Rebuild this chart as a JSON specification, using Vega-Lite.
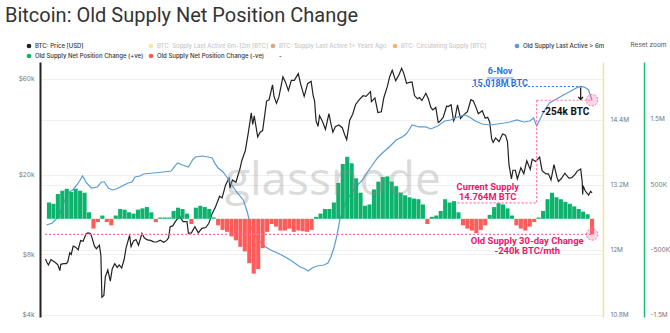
{
  "$schema": "https://vega.github.io/schema/vega-lite/v6.json",
  "width": 563,
  "height": 255,
  "autosize": {"type": "none"},
  "padding": {"left": 40, "top": 62, "right": 67, "bottom": 16},
  "title": {"text": "Bitcoin: Old Supply Net Position Change", "anchor": "start", "frame": "group", "dx": -35, "offset": 15, "font": "Roboto", "fontSize": 20, "fontWeight": 400, "color": "#333333"},
  "config": {
    "view": {"stroke": null},
    "font": "Inter",
    "axis": {"labelFont": "Inter", "labelFontSize": 6.5, "labelColor": "#777777", "ticks": false, "gridColor": "#efefef"}
  },
  "datasets": {
    "price": [
      {"date": "2019-11-19", "p": 7600}, {"date": "2019-11-22", "p": 7300}, {"date": "2019-11-25", "p": 7100}, {"date": "2019-11-30", "p": 7550}, {"date": "2019-12-05", "p": 7400},
      {"date": "2019-12-10", "p": 7250}, {"date": "2019-12-14", "p": 7100}, {"date": "2019-12-18", "p": 6650}, {"date": "2019-12-20", "p": 7150},
      {"date": "2019-12-26", "p": 7200}, {"date": "2019-12-31", "p": 7200}, {"date": "2020-01-03", "p": 7350}, {"date": "2020-01-07", "p": 8150},
      {"date": "2020-01-10", "p": 8000}, {"date": "2020-01-14", "p": 8800}, {"date": "2020-01-19", "p": 8700}, {"date": "2020-01-24", "p": 8450},
      {"date": "2020-01-29", "p": 9380}, {"date": "2020-02-03", "p": 9300}, {"date": "2020-02-09", "p": 10150}, {"date": "2020-02-13", "p": 10250},
      {"date": "2020-02-18", "p": 10180}, {"date": "2020-02-21", "p": 9700}, {"date": "2020-02-26", "p": 8800}, {"date": "2020-03-01", "p": 8550},
      {"date": "2020-03-07", "p": 8900}, {"date": "2020-03-10", "p": 7900}, {"date": "2020-03-12", "p": 4900}, {"date": "2020-03-16", "p": 5000},
      {"date": "2020-03-19", "p": 6200}, {"date": "2020-03-24", "p": 6700}, {"date": "2020-03-29", "p": 5900}, {"date": "2020-04-02", "p": 6800},
      {"date": "2020-04-07", "p": 7200}, {"date": "2020-04-12", "p": 6900}, {"date": "2020-04-16", "p": 7100}, {"date": "2020-04-21", "p": 6850},
      {"date": "2020-04-26", "p": 7550}, {"date": "2020-04-30", "p": 8650}, {"date": "2020-05-07", "p": 9950}, {"date": "2020-05-10", "p": 8750},
      {"date": "2020-05-15", "p": 9350}, {"date": "2020-05-20", "p": 9500}, {"date": "2020-05-25", "p": 8900}, {"date": "2020-06-01", "p": 10200},
      {"date": "2020-06-06", "p": 9650}, {"date": "2020-06-12", "p": 9450}, {"date": "2020-06-18", "p": 9400}, {"date": "2020-06-25", "p": 9250},
      {"date": "2020-07-01", "p": 9230}, {"date": "2020-07-08", "p": 9430}, {"date": "2020-07-15", "p": 9200}, {"date": "2020-07-21", "p": 9400},
      {"date": "2020-07-25", "p": 9700}, {"date": "2020-07-28", "p": 11000}, {"date": "2020-08-02", "p": 11100}, {"date": "2020-08-10", "p": 11900},
      {"date": "2020-08-17", "p": 12300}, {"date": "2020-08-23", "p": 11650}, {"date": "2020-08-31", "p": 11650}, {"date": "2020-09-03", "p": 10200},
      {"date": "2020-09-09", "p": 10250}, {"date": "2020-09-16", "p": 11000}, {"date": "2020-09-23", "p": 10250}, {"date": "2020-09-30", "p": 10800},
      {"date": "2020-10-08", "p": 10900}, {"date": "2020-10-14", "p": 11400}, {"date": "2020-10-21", "p": 12800}, {"date": "2020-10-27", "p": 13650},
      {"date": "2020-11-05", "p": 15600}, {"date": "2020-11-10", "p": 15300}, {"date": "2020-11-17", "p": 17700}, {"date": "2020-11-24", "p": 19150},
      {"date": "2020-11-26", "p": 17100}, {"date": "2020-12-01", "p": 18800}, {"date": "2020-12-08", "p": 18300}, {"date": "2020-12-16", "p": 21300},
      {"date": "2020-12-20", "p": 23500}, {"date": "2020-12-27", "p": 26300}, {"date": "2021-01-02", "p": 32200}, {"date": "2021-01-08", "p": 40500},
      {"date": "2021-01-11", "p": 35500}, {"date": "2021-01-14", "p": 39200}, {"date": "2021-01-21", "p": 30800}, {"date": "2021-01-26", "p": 32500},
      {"date": "2021-01-31", "p": 33100}, {"date": "2021-02-08", "p": 46400}, {"date": "2021-02-13", "p": 47100}, {"date": "2021-02-20", "p": 55900},
      {"date": "2021-02-23", "p": 48900}, {"date": "2021-02-28", "p": 45200}, {"date": "2021-03-05", "p": 48800}, {"date": "2021-03-13", "p": 61200},
      {"date": "2021-03-18", "p": 57800}, {"date": "2021-03-24", "p": 52300}, {"date": "2021-03-30", "p": 58800}, {"date": "2021-04-05", "p": 58800},
      {"date": "2021-04-13", "p": 63500}, {"date": "2021-04-18", "p": 56200}, {"date": "2021-04-25", "p": 49000}, {"date": "2021-05-02", "p": 56600},
      {"date": "2021-05-09", "p": 58200}, {"date": "2021-05-13", "p": 49700}, {"date": "2021-05-16", "p": 46400}, {"date": "2021-05-19", "p": 37000},
      {"date": "2021-05-23", "p": 34700}, {"date": "2021-05-26", "p": 39200}, {"date": "2021-06-01", "p": 36700}, {"date": "2021-06-07", "p": 33500},
      {"date": "2021-06-14", "p": 40200}, {"date": "2021-06-18", "p": 35800}, {"date": "2021-06-22", "p": 32500}, {"date": "2021-06-27", "p": 34600},
      {"date": "2021-07-04", "p": 35300}, {"date": "2021-07-11", "p": 34200}, {"date": "2021-07-16", "p": 31500}, {"date": "2021-07-20", "p": 29800},
      {"date": "2021-07-26", "p": 37300}, {"date": "2021-08-01", "p": 39900}, {"date": "2021-08-07", "p": 44600}, {"date": "2021-08-14", "p": 47000},
      {"date": "2021-08-22", "p": 49300}, {"date": "2021-08-28", "p": 49000}, {"date": "2021-09-06", "p": 51700}, {"date": "2021-09-08", "p": 46100},
      {"date": "2021-09-15", "p": 48100}, {"date": "2021-09-21", "p": 40700}, {"date": "2021-09-28", "p": 41000}, {"date": "2021-10-03", "p": 48200},
      {"date": "2021-10-10", "p": 54700}, {"date": "2021-10-15", "p": 61500}, {"date": "2021-10-20", "p": 66000}, {"date": "2021-10-27", "p": 58500},
      {"date": "2021-11-03", "p": 62900}, {"date": "2021-11-08", "p": 67500}, {"date": "2021-11-12", "p": 64100}, {"date": "2021-11-18", "p": 56900},
      {"date": "2021-11-24", "p": 57500}, {"date": "2021-11-29", "p": 57800}, {"date": "2021-12-04", "p": 49400}, {"date": "2021-12-10", "p": 47600},
      {"date": "2021-12-14", "p": 48300}, {"date": "2021-12-19", "p": 46700}, {"date": "2021-12-27", "p": 50700}, {"date": "2022-01-01", "p": 47700},
      {"date": "2022-01-06", "p": 43100}, {"date": "2022-01-10", "p": 41900}, {"date": "2022-01-16", "p": 43100}, {"date": "2022-01-21", "p": 36300},
      {"date": "2022-01-24", "p": 36700}, {"date": "2022-01-31", "p": 38500}, {"date": "2022-02-07", "p": 43800}, {"date": "2022-02-10", "p": 43600},
      {"date": "2022-02-16", "p": 44500}, {"date": "2022-02-21", "p": 37000}, {"date": "2022-02-24", "p": 38300}, {"date": "2022-03-01", "p": 44400},
      {"date": "2022-03-07", "p": 38000}, {"date": "2022-03-14", "p": 39700}, {"date": "2022-03-21", "p": 41100}, {"date": "2022-03-28", "p": 47100},
      {"date": "2022-04-02", "p": 46400}, {"date": "2022-04-08", "p": 42800}, {"date": "2022-04-12", "p": 40100}, {"date": "2022-04-20", "p": 41500},
      {"date": "2022-04-26", "p": 38100}, {"date": "2022-05-01", "p": 38500}, {"date": "2022-05-05", "p": 36500}, {"date": "2022-05-09", "p": 30100},
      {"date": "2022-05-12", "p": 28900}, {"date": "2022-05-17", "p": 30400}, {"date": "2022-05-24", "p": 29100}, {"date": "2022-05-31", "p": 31800},
      {"date": "2022-06-06", "p": 31400}, {"date": "2022-06-10", "p": 29100}, {"date": "2022-06-13", "p": 22400}, {"date": "2022-06-18", "p": 19000},
      {"date": "2022-06-21", "p": 21000}, {"date": "2022-06-26", "p": 21000}, {"date": "2022-06-30", "p": 19000}, {"date": "2022-07-07", "p": 21600},
      {"date": "2022-07-13", "p": 20200}, {"date": "2022-07-19", "p": 23400}, {"date": "2022-07-26", "p": 21200}, {"date": "2022-07-30", "p": 23800},
      {"date": "2022-08-06", "p": 23200}, {"date": "2022-08-14", "p": 24400}, {"date": "2022-08-19", "p": 20900}, {"date": "2022-08-26", "p": 20200},
      {"date": "2022-09-01", "p": 20100}, {"date": "2022-09-06", "p": 18800}, {"date": "2022-09-12", "p": 22400}, {"date": "2022-09-18", "p": 19400},
      {"date": "2022-09-21", "p": 18500}, {"date": "2022-09-27", "p": 19100}, {"date": "2022-10-04", "p": 20300}, {"date": "2022-10-12", "p": 19200},
      {"date": "2022-10-18", "p": 19300}, {"date": "2022-10-25", "p": 20100}, {"date": "2022-10-29", "p": 20800}, {"date": "2022-11-05", "p": 21300},
      {"date": "2022-11-08", "p": 18500}, {"date": "2022-11-09", "p": 15900}, {"date": "2022-11-10", "p": 17600}, {"date": "2022-11-14", "p": 16600},
      {"date": "2022-11-21", "p": 15800}, {"date": "2022-11-25", "p": 16500}, {"date": "2022-11-28", "p": 16200}
    ],
    "supply": [
      {"date": "2019-11-21", "v": 12.461}, {"date": "2019-12-03", "v": 12.498}, {"date": "2019-12-15", "v": 12.609}, {"date": "2019-12-24", "v": 12.831},
      {"date": "2020-01-03", "v": 13.052}, {"date": "2020-01-13", "v": 13.108}, {"date": "2020-01-23", "v": 13.218}, {"date": "2020-02-02", "v": 13.366},
      {"date": "2020-02-10", "v": 13.237}, {"date": "2020-02-20", "v": 13.144}, {"date": "2020-03-03", "v": 13.163}, {"date": "2020-03-11", "v": 13.255},
      {"date": "2020-03-17", "v": 13.255}, {"date": "2020-03-25", "v": 13.144}, {"date": "2020-04-02", "v": 13.108}, {"date": "2020-04-10", "v": 13.126},
      {"date": "2020-04-22", "v": 13.181}, {"date": "2020-05-04", "v": 13.237}, {"date": "2020-05-12", "v": 13.255}, {"date": "2020-05-18", "v": 13.348},
      {"date": "2020-05-28", "v": 13.366}, {"date": "2020-06-04", "v": 13.403}, {"date": "2020-06-24", "v": 13.421}, {"date": "2020-07-14", "v": 13.44},
      {"date": "2020-07-30", "v": 13.458}, {"date": "2020-08-07", "v": 13.551}, {"date": "2020-08-12", "v": 13.606}, {"date": "2020-08-22", "v": 13.569},
      {"date": "2020-09-03", "v": 13.532}, {"date": "2020-09-11", "v": 13.661}, {"date": "2020-09-17", "v": 13.717}, {"date": "2020-10-01", "v": 13.735},
      {"date": "2020-10-13", "v": 13.717}, {"date": "2020-10-21", "v": 13.698}, {"date": "2020-10-27", "v": 13.588}, {"date": "2020-11-02", "v": 13.514},
      {"date": "2020-11-12", "v": 13.44}, {"date": "2020-11-21", "v": 13.329}, {"date": "2020-12-01", "v": 13.181}, {"date": "2020-12-11", "v": 13.052},
      {"date": "2020-12-23", "v": 12.923}, {"date": "2020-12-31", "v": 12.701}, {"date": "2021-01-06", "v": 12.461}, {"date": "2021-01-12", "v": 12.314},
      {"date": "2021-01-22", "v": 12.185}, {"date": "2021-02-03", "v": 12.074}, {"date": "2021-02-16", "v": 12.0}, {"date": "2021-03-02", "v": 11.945},
      {"date": "2021-03-14", "v": 11.889}, {"date": "2021-03-28", "v": 11.815}, {"date": "2021-04-17", "v": 11.686}, {"date": "2021-04-27", "v": 11.649},
      {"date": "2021-05-03", "v": 11.612}, {"date": "2021-05-11", "v": 11.668}, {"date": "2021-05-21", "v": 11.705}, {"date": "2021-06-04", "v": 11.723},
      {"date": "2021-06-12", "v": 11.76}, {"date": "2021-06-18", "v": 11.871}, {"date": "2021-06-24", "v": 12.037}, {"date": "2021-06-30", "v": 12.258},
      {"date": "2021-07-06", "v": 12.554}, {"date": "2021-07-12", "v": 12.738}, {"date": "2021-07-20", "v": 12.923}, {"date": "2021-07-30", "v": 13.052},
      {"date": "2021-08-09", "v": 13.181}, {"date": "2021-08-21", "v": 13.292}, {"date": "2021-08-31", "v": 13.44}, {"date": "2021-09-10", "v": 13.569},
      {"date": "2021-09-20", "v": 13.698}, {"date": "2021-09-30", "v": 13.791}, {"date": "2021-10-14", "v": 13.901}, {"date": "2021-10-28", "v": 14.031},
      {"date": "2021-11-09", "v": 14.086}, {"date": "2021-11-17", "v": 14.141}, {"date": "2021-11-23", "v": 14.215}, {"date": "2021-11-29", "v": 14.307},
      {"date": "2021-12-13", "v": 14.271}, {"date": "2021-12-27", "v": 14.271}, {"date": "2022-01-06", "v": 14.234}, {"date": "2022-01-20", "v": 14.289},
      {"date": "2022-02-03", "v": 14.381}, {"date": "2022-02-15", "v": 14.4}, {"date": "2022-03-01", "v": 14.455}, {"date": "2022-03-15", "v": 14.492},
      {"date": "2022-03-25", "v": 14.455}, {"date": "2022-04-06", "v": 14.381}, {"date": "2022-04-20", "v": 14.326}, {"date": "2022-05-06", "v": 14.307},
      {"date": "2022-05-20", "v": 14.326}, {"date": "2022-06-03", "v": 14.344}, {"date": "2022-06-15", "v": 14.363}, {"date": "2022-06-29", "v": 14.4},
      {"date": "2022-07-13", "v": 14.363}, {"date": "2022-07-25", "v": 14.381}, {"date": "2022-08-02", "v": 14.437}, {"date": "2022-08-08", "v": 14.289},
      {"date": "2022-08-14", "v": 14.4}, {"date": "2022-08-24", "v": 14.584}, {"date": "2022-09-03", "v": 14.714}, {"date": "2022-09-17", "v": 14.787},
      {"date": "2022-10-01", "v": 14.861}, {"date": "2022-10-13", "v": 14.917}, {"date": "2022-10-27", "v": 14.991}, {"date": "2022-11-06", "v": 15.018},
      {"date": "2022-11-14", "v": 15.0}, {"date": "2022-11-21", "v": 14.954}, {"date": "2022-11-25", "v": 14.843}, {"date": "2022-11-28", "v": 14.764}
    ],
    "net": [
      {"date": "2019-11-26", "v": 0.25}, {"date": "2019-12-05", "v": 0.23}, {"date": "2019-12-14", "v": 0.38}, {"date": "2019-12-23", "v": 0.43},
      {"date": "2020-01-01", "v": 0.46}, {"date": "2020-01-10", "v": 0.41}, {"date": "2020-01-19", "v": 0.46}, {"date": "2020-01-28", "v": 0.43},
      {"date": "2020-02-06", "v": 0.4}, {"date": "2020-02-15", "v": 0.1}, {"date": "2020-02-24", "v": -0.15}, {"date": "2020-03-04", "v": -0.05},
      {"date": "2020-03-13", "v": 0.05}, {"date": "2020-03-22", "v": -0.05}, {"date": "2020-03-31", "v": -0.1}, {"date": "2020-04-09", "v": 0.05},
      {"date": "2020-04-18", "v": 0.15}, {"date": "2020-04-27", "v": 0.14}, {"date": "2020-05-06", "v": 0.1}, {"date": "2020-05-15", "v": 0.08},
      {"date": "2020-05-24", "v": 0.14}, {"date": "2020-06-02", "v": 0.16}, {"date": "2020-06-11", "v": 0.18}, {"date": "2020-06-20", "v": 0.1},
      {"date": "2020-06-29", "v": -0.05}, {"date": "2020-07-08", "v": 0.02}, {"date": "2020-07-17", "v": 0.02}, {"date": "2020-07-26", "v": 0.02},
      {"date": "2020-08-04", "v": 0.12}, {"date": "2020-08-13", "v": 0.17}, {"date": "2020-08-22", "v": 0.15}, {"date": "2020-08-31", "v": 0.08},
      {"date": "2020-09-09", "v": -0.08}, {"date": "2020-09-18", "v": 0.17}, {"date": "2020-09-27", "v": 0.2}, {"date": "2020-10-06", "v": 0.18},
      {"date": "2020-10-15", "v": 0.15}, {"date": "2020-10-24", "v": 0.02}, {"date": "2020-11-02", "v": -0.1}, {"date": "2020-11-11", "v": -0.17},
      {"date": "2020-11-20", "v": -0.2}, {"date": "2020-11-29", "v": -0.27}, {"date": "2020-12-08", "v": -0.33}, {"date": "2020-12-17", "v": -0.43},
      {"date": "2020-12-26", "v": -0.5}, {"date": "2021-01-04", "v": -0.68}, {"date": "2021-01-13", "v": -0.84}, {"date": "2021-01-22", "v": -0.77},
      {"date": "2021-01-31", "v": -0.45}, {"date": "2021-02-09", "v": -0.2}, {"date": "2021-02-18", "v": -0.08}, {"date": "2021-02-27", "v": -0.12},
      {"date": "2021-03-08", "v": -0.18}, {"date": "2021-03-17", "v": -0.18}, {"date": "2021-03-26", "v": -0.15}, {"date": "2021-04-04", "v": -0.2},
      {"date": "2021-04-13", "v": -0.18}, {"date": "2021-04-22", "v": -0.19}, {"date": "2021-05-01", "v": -0.2}, {"date": "2021-05-10", "v": -0.17},
      {"date": "2021-05-19", "v": 0.03}, {"date": "2021-05-28", "v": 0.08}, {"date": "2021-06-06", "v": 0.15}, {"date": "2021-06-15", "v": 0.15},
      {"date": "2021-06-24", "v": 0.25}, {"date": "2021-07-03", "v": 0.55}, {"date": "2021-07-12", "v": 0.84}, {"date": "2021-07-21", "v": 0.95},
      {"date": "2021-07-30", "v": 0.85}, {"date": "2021-08-08", "v": 0.62}, {"date": "2021-08-17", "v": 0.4}, {"date": "2021-08-26", "v": 0.2},
      {"date": "2021-09-04", "v": 0.22}, {"date": "2021-09-13", "v": 0.45}, {"date": "2021-09-22", "v": 0.57}, {"date": "2021-10-01", "v": 0.64},
      {"date": "2021-10-10", "v": 0.65}, {"date": "2021-10-19", "v": 0.57}, {"date": "2021-10-28", "v": 0.5}, {"date": "2021-11-06", "v": 0.4},
      {"date": "2021-11-15", "v": 0.36}, {"date": "2021-11-24", "v": 0.33}, {"date": "2021-12-03", "v": 0.31}, {"date": "2021-12-12", "v": 0.3},
      {"date": "2021-12-21", "v": 0.22}, {"date": "2021-12-30", "v": -0.08}, {"date": "2022-01-08", "v": 0.03}, {"date": "2022-01-17", "v": 0.05},
      {"date": "2022-01-26", "v": 0.12}, {"date": "2022-02-04", "v": 0.3}, {"date": "2022-02-13", "v": 0.25}, {"date": "2022-02-22", "v": 0.27},
      {"date": "2022-03-03", "v": 0.1}, {"date": "2022-03-12", "v": -0.1}, {"date": "2022-03-21", "v": -0.15}, {"date": "2022-03-30", "v": -0.18},
      {"date": "2022-04-08", "v": -0.22}, {"date": "2022-04-17", "v": -0.17}, {"date": "2022-04-26", "v": -0.1}, {"date": "2022-05-05", "v": 0.06},
      {"date": "2022-05-14", "v": 0.18}, {"date": "2022-05-23", "v": 0.24}, {"date": "2022-06-01", "v": 0.22}, {"date": "2022-06-10", "v": 0.16},
      {"date": "2022-06-19", "v": 0.05}, {"date": "2022-06-28", "v": -0.1}, {"date": "2022-07-07", "v": -0.15}, {"date": "2022-07-16", "v": -0.18},
      {"date": "2022-07-25", "v": -0.12}, {"date": "2022-08-03", "v": -0.05}, {"date": "2022-08-12", "v": 0.02}, {"date": "2022-08-21", "v": 0.12},
      {"date": "2022-08-30", "v": 0.3}, {"date": "2022-09-08", "v": 0.4}, {"date": "2022-09-17", "v": 0.33}, {"date": "2022-09-26", "v": 0.3},
      {"date": "2022-10-05", "v": 0.26}, {"date": "2022-10-14", "v": 0.23}, {"date": "2022-10-23", "v": 0.19}, {"date": "2022-11-01", "v": 0.15},
      {"date": "2022-11-10", "v": 0.11}, {"date": "2022-11-19", "v": 0.07}, {"date": "2022-11-28", "v": -0.24}
    ]
  },
  "layer": [
    {
      "data": {"name": "price"},
      "mark": {"type": "line", "strokeWidth": 1.2},
      "encoding": {
        "x": {"field": "date", "type": "temporal", "title": null,
          "scale": {"domain": [{"year": 2019, "month": 11, "date": 18}, {"year": 2022, "month": 12, "date": 10}]},
          "axis": {"format": "%b '%y", "tickCount": {"interval": "month", "step": 3}, "domainColor": "#e3e3e3", "grid": false, "labelPadding": 5, "labelFontSize": 6.5, "labelColor": "#777777"}},
        "y": {"field": "p", "type": "quantitative", "title": null,
          "scale": {"type": "log", "domain": [3909, 72580], "nice": false},
          "axis": {"orient": "left", "values": [4000, 8000, 20000, 60000], "format": "$~s", "domainColor": "#222222", "domainWidth": 2, "grid": true, "gridColor": "#efefef", "labelPadding": 6}},
        "color": {"datum": "BTC: Price [USD]", "type": "nominal",
          "scale": {"domain": ["BTC: Price [USD]", "BTC: Supply Last Active 6m-12m [BTC]", "BTC: Supply Last Active 1+ Years Ago", "BTC: Circulating Supply [BTC]", "Old Supply Last Active > 6m", "Old Supply Net Position Change (+ve)", "Old Supply Net Position Change (-ve)", "-"],
                    "range": ["#222222", "#f6e6a4", "#e0a57c", "#f7b27a", "#5b9bd5", "#0db36c", "#ff5b5b", "rgba(0,0,0,0)"]},
          "legend": {"orient": "none", "legendX": -14, "legendY": -19, "columns": 5, "direction": "horizontal", "title": null,
            "symbolType": "circle", "symbolSize": 22, "labelFont": "Inter", "labelFontSize": 6, "labelFontWeight": 500, "labelColor": "#333333",
            "labelOffset": 3, "columnPadding": 1, "rowPadding": 4, "gridAlign": "all", "padding": 0, "labelLimit": 220,
            "encode": {
              "symbols": {"update": {"fill": {"scale": "color", "field": "value"}, "fillOpacity": {"value": 1}, "strokeWidth": {"value": 0}}},
              "labels": {"update": {"fill": {"signal": "indexof(['BTC: Supply Last Active 6m-12m [BTC]','BTC: Supply Last Active 1+ Years Ago','BTC: Circulating Supply [BTC]'], datum.label) >= 0 ? '#c8c8c8' : '#333333'"}}}
            }}}
      }
    },
    {
      "data": {"name": "supply"},
      "mark": {"type": "line", "strokeWidth": 1.2},
      "encoding": {
        "x": {"field": "date", "type": "temporal", "axis": null},
        "y": {"field": "v", "type": "quantitative", "title": null,
          "scale": {"domain": [10.763, 15.47], "nice": false, "zero": false},
          "axis": {"orient": "right", "values": [10.8, 12, 13.2, 14.4], "labelExpr": "datum.value + 'M'", "domainColor": "#f6e39a", "domainWidth": 1.5, "grid": true, "gridColor": "#f0f0f0", "labelPadding": 7}},
        "color": {"datum": "Old Supply Last Active > 6m", "type": "nominal",
          "scale": {"domain": ["BTC: Price [USD]", "BTC: Supply Last Active 6m-12m [BTC]", "BTC: Supply Last Active 1+ Years Ago", "BTC: Circulating Supply [BTC]", "Old Supply Last Active > 6m", "Old Supply Net Position Change (+ve)", "Old Supply Net Position Change (-ve)", "-"],
                    "range": ["#222222", "#f6e6a4", "#e0a57c", "#f7b27a", "#5b9bd5", "#0db36c", "#ff5b5b", "rgba(0,0,0,0)"]}}
      }
    },
    {
      "data": {"name": "net"},
      "mark": {"type": "bar", "size": 4.1},
      "encoding": {
        "x": {"field": "date", "type": "temporal", "axis": null},
        "y": {"field": "v", "type": "quantitative", "title": null, "stack": null,
          "scale": {"domain": [-1.505, 2.403], "nice": false, "zero": false},
          "axis": {"orient": "right", "offset": 41, "values": [-1.5, -0.5, 0.5, 1.5], "labelExpr": "abs(datum.value) >= 1 ? datum.value + 'M' : (datum.value * 1000) + 'K'", "domainColor": "#1bbf73", "domainWidth": 1.5, "grid": false, "labelPadding": 6, "labelOffset": -2,
            "title": "Reset zoom", "titleAngle": 0, "titleX": -14, "titleY": -18, "titleAlign": "left", "titleBaseline": "middle", "titleFont": "Inter", "titleFontSize": 6.5, "titleFontWeight": "normal", "titleColor": "#555555"}},
        "color": {"condition": {"test": "datum.v < 0", "value": "#ff5b5b"}, "value": "#0db36c"}
      }
    },
    {
      "data": {"values": [{"date": "2022-03-30", "date2": "2022-11-12", "v": 15.018, "v2": 15.018}]},
      "mark": {"type": "rule", "color": "#2f7de1", "strokeWidth": 1.2, "strokeDash": [2, 2]},
      "encoding": {
        "x": {"field": "date", "type": "temporal", "axis": null}, "x2": {"field": "date2"},
        "y": {"field": "v", "type": "quantitative", "axis": null, "scale": {"domain": [10.763, 15.47], "nice": false, "zero": false}}, "y2": {"field": "v2"}
      }
    },
    {
      "data": {"values": [{"date": "2022-04-30", "date2": "2022-06-22", "v": 15.175, "v2": 15.175}]},
      "mark": {"type": "rule", "color": "#2f7de1", "strokeWidth": 0.8},
      "encoding": {
        "x": {"field": "date", "type": "temporal", "axis": null}, "x2": {"field": "date2"},
        "y": {"field": "v", "type": "quantitative", "axis": null, "scale": {"domain": [10.763, 15.47], "nice": false, "zero": false}}, "y2": {"field": "v2"}
      }
    },
    {
      "data": {"values": [
        {"date": "2022-08-08", "date2": "2022-11-28", "v": 14.764, "v2": 14.764},
        {"date": "2022-08-08", "date2": "2022-08-08", "v": 14.764, "v2": 12.868},
        {"date": "2022-03-01", "date2": "2022-08-08", "v": 12.868, "v2": 12.868}
      ]},
      "mark": {"type": "rule", "color": "#ff6fa3", "strokeWidth": 1.2, "strokeDash": [2, 2]},
      "encoding": {
        "x": {"field": "date", "type": "temporal", "axis": null}, "x2": {"field": "date2"},
        "y": {"field": "v", "type": "quantitative", "axis": null, "scale": {"domain": [10.763, 15.47], "nice": false, "zero": false}}, "y2": {"field": "v2"}
      }
    },
    {
      "data": {"values": [{"date": "2022-11-05", "date2": "2022-11-05", "v": 15.0, "v2": 14.78}]},
      "mark": {"type": "rule", "color": "#111111", "strokeWidth": 1.2},
      "encoding": {
        "x": {"field": "date", "type": "temporal", "axis": null}, "x2": {"field": "date2"},
        "y": {"field": "v", "type": "quantitative", "axis": null, "scale": {"domain": [10.763, 15.47], "nice": false, "zero": false}}, "y2": {"field": "v2"}
      }
    },
    {
      "data": {"values": [{"date": "2022-11-05", "v": 14.78}]},
      "mark": {"type": "point", "shape": "M-1,-1L0,0L1,-1", "filled": false, "color": "#111111", "strokeWidth": 1.2, "size": 22, "opacity": 1},
      "encoding": {
        "x": {"field": "date", "type": "temporal", "axis": null},
        "y": {"field": "v", "type": "quantitative", "axis": null, "scale": {"domain": [10.763, 15.47], "nice": false, "zero": false}}
      }
    },
    {
      "data": {"values": [{"date": "2022-11-28", "v": 14.764}]},
      "mark": {"type": "point", "shape": "circle", "filled": true, "color": "#ff6fa3", "fillOpacity": 0.3, "stroke": "#ff6fa3", "strokeDash": [2, 1.5], "strokeWidth": 1, "size": 130, "opacity": 1},
      "encoding": {
        "x": {"field": "date", "type": "temporal", "axis": null},
        "y": {"field": "v", "type": "quantitative", "axis": null, "scale": {"domain": [10.763, 15.47], "nice": false, "zero": false}}
      }
    },
    {
      "data": {"values": [{"date": "2022-05-26", "v": 15.304, "t": "6-Nov"}, {"date": "2022-05-26", "v": 15.083, "t": "15.018M BTC"}]},
      "mark": {"type": "text", "font": "Roboto", "fontSize": 9, "fontWeight": "bold", "color": "#2a72e0", "align": "center", "baseline": "middle"},
      "encoding": {
        "x": {"field": "date", "type": "temporal", "axis": null},
        "y": {"field": "v", "type": "quantitative", "axis": null, "scale": {"domain": [10.763, 15.47], "nice": false, "zero": false}},
        "text": {"field": "t"}
      }
    },
    {
      "data": {"values": [{"date": "2022-10-05", "v": 14.547, "t": "-254k BTC"}]},
      "mark": {"type": "text", "font": "Roboto", "fontSize": 10, "fontWeight": "bold", "color": "#111111", "align": "center", "baseline": "middle"},
      "encoding": {
        "x": {"field": "date", "type": "temporal", "axis": null},
        "y": {"field": "v", "type": "quantitative", "axis": null, "scale": {"domain": [10.763, 15.47], "nice": false, "zero": false}},
        "text": {"field": "t"}
      }
    },
    {
      "data": {"values": [{"date": "2022-05-01", "v": 13.163, "t": "Current Supply"}, {"date": "2022-05-01", "v": 12.978, "t": "14.764M BTC"}]},
      "mark": {"type": "text", "font": "Roboto", "fontSize": 9.3, "fontWeight": "bold", "color": "#f0146e", "align": "center", "baseline": "middle"},
      "encoding": {
        "x": {"field": "date", "type": "temporal", "axis": null},
        "y": {"field": "v", "type": "quantitative", "axis": null, "scale": {"domain": [10.763, 15.47], "nice": false, "zero": false}},
        "text": {"field": "t"}
      }
    },
    {
      "data": {"values": [{"date": "2019-11-18", "date2": "2022-11-28", "v": -0.24, "v2": -0.24}]},
      "mark": {"type": "rule", "color": "#ff6fa3", "strokeWidth": 1.2, "strokeDash": [2, 2]},
      "encoding": {
        "x": {"field": "date", "type": "temporal", "axis": null}, "x2": {"field": "date2"},
        "y": {"field": "v", "type": "quantitative", "axis": null, "scale": {"domain": [-1.505, 2.403], "nice": false, "zero": false}}, "y2": {"field": "v2"}
      }
    },
    {
      "data": {"values": [{"date": "2022-11-28", "v": -0.24}]},
      "mark": {"type": "point", "shape": "circle", "filled": true, "color": "#ff6fa3", "fillOpacity": 0.3, "stroke": "#ff6fa3", "strokeDash": [2, 1.5], "strokeWidth": 1, "size": 130, "opacity": 1},
      "encoding": {
        "x": {"field": "date", "type": "temporal", "axis": null},
        "y": {"field": "v", "type": "quantitative", "axis": null, "scale": {"domain": [-1.505, 2.403], "nice": false, "zero": false}}
      }
    },
    {
      "data": {"values": [{"date": "2022-07-20", "v": -0.337, "t": "Old Supply 30-day Change"}, {"date": "2022-07-20", "v": -0.49, "t": "-240k BTC/mth"}]},
      "mark": {"type": "text", "font": "Roboto", "fontSize": 9.5, "fontWeight": "bold", "color": "#f0146e", "align": "center", "baseline": "middle"},
      "encoding": {
        "x": {"field": "date", "type": "temporal", "axis": null},
        "y": {"field": "v", "type": "quantitative", "axis": null, "scale": {"domain": [-1.505, 2.403], "nice": false, "zero": false}},
        "text": {"field": "t"}
      }
    },
    {
      "data": {"values": [{"date": "2021-06-22", "v": 0.367, "t": "glassnode"}]},
      "mark": {"type": "text", "font": "Open Sans", "fontSize": 46, "color": "#8a8a8a", "opacity": 0.3, "align": "center", "baseline": "alphabetic"},
      "encoding": {
        "x": {"field": "date", "type": "temporal", "axis": null},
        "y": {"field": "v", "type": "quantitative", "axis": null, "scale": {"domain": [-1.505, 2.403], "nice": false, "zero": false}},
        "text": {"field": "t"}
      }
    }
  ],
  "resolve": {"scale": {"y": "independent"}}
}
